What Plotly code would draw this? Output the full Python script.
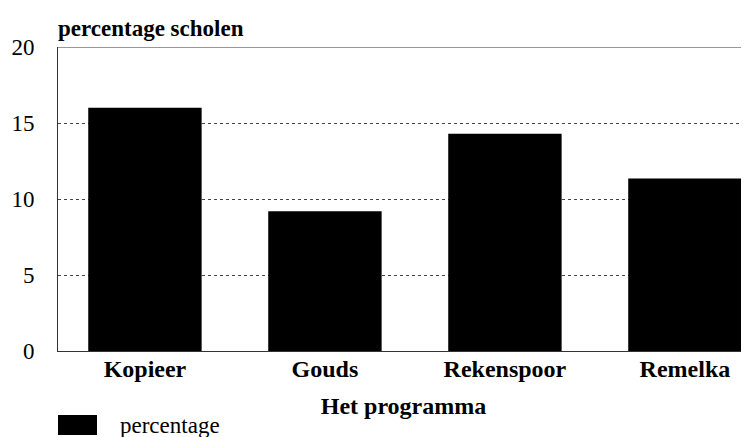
import plotly.graph_objects as go

categories = ["Kopieer", "Gouds", "Rekenspoor", "Remelka"]
values = [16.0, 9.2, 14.3, 11.35]
y_ticks = [0, 5, 10, 15, 20]
series_name = "percentage"

W, H = 749, 437
# page body has an 8px offset; compensate in margins
L, R, T, B = 50, 8, 39, 94
pw = W - L - R
ph = H - T - B
bottom_px = T + ph

serif = "Liberation Serif, Times New Roman, serif"

fig = go.Figure()
fig.add_trace(go.Bar(x=categories, y=values, name=series_name,
                     marker=dict(color="black", line=dict(width=0)),
                     showlegend=False))

fig.update_layout(
    width=W, height=H,
    margin=dict(l=L, r=R, t=T, b=B, autoexpand=False),
    paper_bgcolor="white", plot_bgcolor="white",
    bargap=0.37,
    font=dict(family=serif, color="black", size=23),
    xaxis=dict(
        range=[-0.483, 3.356],
        showline=True, linecolor="#333", linewidth=1,
        showgrid=False, ticks="",
        tickfont=dict(family=serif, size=24, color="black", weight="bold"),
        ticklabelstandoff=-4,
        title=dict(text="<b>Het programma</b>", font=dict(family=serif, size=24, color="black"),
                   standoff=16),
    ),
    yaxis=dict(
        range=[0, 20], tickvals=y_ticks,
        showline=True, linecolor="#333", linewidth=1,
        showgrid=True, gridcolor="#444", griddash="dot", gridwidth=1,
        zeroline=False, ticks="",
        tickfont=dict(family=serif, size=23, color="black"),
        ticklabelstandoff=18,
    ),
)

# top border line at y = 20
fig.add_shape(type="line", xref="paper", yref="y", x0=0, x1=1, y0=20, y1=20,
              line=dict(color="#333", width=1))

# chart y-axis caption
fig.add_annotation(text="<b>percentage scholen</b>", xref="paper", yref="paper",
                   x=0, y=1, xanchor="left", yanchor="bottom", xshift=-2, yshift=4,
                   showarrow=False, font=dict(family=serif, size=23, color="black"))

# legend
fig.add_shape(type="rect", xref="paper", yref="paper",
              x0=0, x1=39 / pw, y0=(bottom_px - 427) / ph, y1=(bottom_px - 407) / ph,
              fillcolor="black", line=dict(width=0))
fig.add_annotation(text=series_name, xref="paper", yref="paper",
                   x=60 / pw, y=(bottom_px - 417) / ph, xanchor="left", yanchor="middle",
                   showarrow=False, font=dict(family=serif, size=23, color="black"))

fig.write_html("out.html")
